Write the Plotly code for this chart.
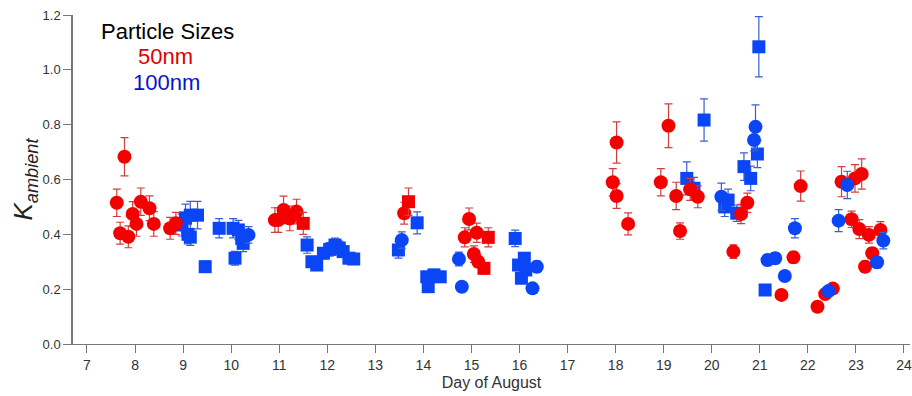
import plotly.graph_objects as go

# ---- Data ----
red_circle_x = [7.62, 7.69, 7.78, 7.86, 7.95, 8.03, 8.12, 8.30, 8.39, 8.73, 8.85,
                10.91, 10.98, 11.09, 11.22, 11.36, 13.60, 14.86, 14.95, 15.05, 15.11, 15.14,
                17.94, 18.02, 18.02, 18.26, 18.94, 19.10, 19.26, 19.34, 19.55, 19.71,
                20.45, 20.61, 20.74, 21.45, 21.70, 21.85, 22.20, 22.36, 22.52,
                22.70, 22.91, 22.98, 23.07, 23.12, 23.19, 23.27, 23.34, 23.51]
red_circle_y = [0.515, 0.404, 0.683, 0.391, 0.474, 0.438, 0.519, 0.495, 0.438, 0.422, 0.44,
                0.452, 0.452, 0.489, 0.458, 0.483, 0.477, 0.389, 0.456, 0.328, 0.406, 0.30,
                0.59, 0.735, 0.54, 0.438, 0.59, 0.796, 0.54, 0.412, 0.564, 0.537,
                0.337, 0.474, 0.515, 0.179, 0.316, 0.576, 0.136, 0.182, 0.202,
                0.592, 0.455, 0.604, 0.419, 0.62, 0.282, 0.398, 0.331, 0.416]
red_circle_err = [0.05, 0.04, 0.07, 0.04, 0.045, 0.045, 0.05, 0.045, 0.045, 0.04, 0.04,
                  0.045, 0.045, 0.05, 0.045, 0.045, 0.04, 0.035, 0.04, 0.03, 0.035, 0.02,
                  0.05, 0.075, 0.045, 0.04, 0.05, 0.08, 0.05, 0.03, 0.04, 0.04,
                  0.025, 0.035, 0.035, 0.0, 0.02, 0.055, 0.0, 0.0, 0.0,
                  0.055, 0.03, 0.05, 0.035, 0.055, 0.02, 0.03, 0.02, 0.03]

red_square_x = [11.50, 13.69, 15.26, 15.35]
red_square_y = [0.44, 0.519, 0.276, 0.389]
red_square_err = [0.04, 0.05, 0.02, 0.035]

blue_circle_x = [10.36, 13.55, 14.74, 14.80, 16.27, 16.36, 20.20, 20.88, 20.91,
                 21.16, 21.32, 21.52, 21.73, 22.43, 22.64, 22.82, 23.44, 23.57]
blue_circle_y = [0.398, 0.379, 0.31, 0.209, 0.203, 0.282, 0.537, 0.744, 0.792,
                 0.306, 0.313, 0.248, 0.422, 0.193, 0.45, 0.58, 0.298, 0.377]
blue_circle_err = [0.03, 0.03, 0.025, 0.0, 0.0, 0.02, 0.05, 0.04, 0.08,
                   0.02, 0.02, 0.0, 0.035, 0.0, 0.04, 0.05, 0.02, 0.03]

blue_square_x = [8.97, 9.05, 9.15, 9.30, 9.10, 9.15, 9.46, 9.75, 10.04, 10.15, 10.22, 10.25, 10.08,
                 11.58, 11.68, 11.78, 11.92, 12.05, 12.16, 12.25, 12.33, 12.45, 12.55,
                 13.48, 13.87, 14.07, 14.10, 14.22, 14.35,
                 15.91, 15.98, 16.10, 16.13, 16.04,
                 19.48, 19.63, 19.84, 20.27, 20.34, 20.52, 20.67, 20.81, 20.95, 20.98, 21.11]
blue_square_y = [0.434, 0.46, 0.47, 0.47, 0.40, 0.39, 0.282, 0.422, 0.422, 0.416, 0.385, 0.367, 0.313,
                 0.361, 0.30, 0.288, 0.331, 0.345, 0.361, 0.35, 0.337, 0.313, 0.31,
                 0.343, 0.442, 0.245, 0.209, 0.252, 0.245,
                 0.385, 0.288, 0.313, 0.27, 0.24,
                 0.604, 0.568, 0.817, 0.50, 0.525, 0.477, 0.647, 0.604, 0.693, 1.084, 0.197]
blue_square_err = [0.04, 0.05, 0.05, 0.05, 0.035, 0.03, 0.02, 0.035, 0.035, 0.035, 0.03, 0.03, 0.025,
                   0.03, 0.02, 0.02, 0.02, 0.025, 0.025, 0.025, 0.02, 0.02, 0.02,
                   0.03, 0.04, 0.02, 0.0, 0.02, 0.02,
                   0.03, 0.02, 0.02, 0.02, 0.02,
                   0.06, 0.04, 0.077, 0.035, 0.04, 0.03, 0.05, 0.045, 0.05, 0.11, 0.0]

x_ticks = list(range(7, 25))
y_ticks = [0.0, 0.2, 0.4, 0.6, 0.8, 1.0, 1.2]

RED = "#f50000"
BLUE = "#0a46f5"
RED_ERR = "#d23c3c"
BLUE_ERR = "#3a5fd0"

fig = go.Figure()

def add(xs, ys, errs, color, ecolor, symbol, size):
    fig.add_trace(go.Scatter(
        x=xs, y=ys, mode="markers",
        marker=dict(color=color, symbol=symbol, size=size, line=dict(width=0)),
        error_y=dict(type="data", array=errs, visible=True, color=ecolor,
                     thickness=1.2, width=4),
        showlegend=False,
    ))

add(blue_square_x, blue_square_y, blue_square_err, BLUE, BLUE_ERR, "square", 13)
add(red_circle_x, red_circle_y, red_circle_err, RED, RED_ERR, "circle", 14)
add(red_square_x, red_square_y, red_square_err, RED, RED_ERR, "square", 13)
add(blue_circle_x, blue_circle_y, blue_circle_err, BLUE, BLUE_ERR, "circle", 14)

FONT = "Arial, Liberation Sans, sans-serif"
NARROW = "Liberation Sans Narrow, Arial Narrow, Liberation Sans, sans-serif"

L, R, T, B = 73, 2, 15, 52

fig.update_layout(
    width=912, height=396,
    margin=dict(l=L, r=R, t=T, b=B, autoexpand=False),
    paper_bgcolor="white", plot_bgcolor="white",
    font=dict(family=FONT, color="#333333"),
    xaxis=dict(
        range=[6.709, 24.125], tickvals=x_ticks, ticktext=[str(t) for t in x_ticks],
        showgrid=False, zeroline=False, showline=True, linecolor="#777777", linewidth=1.2,
        ticks="outside", ticklen=8, tickcolor="#777777", tickwidth=1.2,
        tickfont=dict(size=14, color="#333333", family=NARROW),
        ticklabeloverflow="allow",
        title=dict(text="Day of August", font=dict(size=16, color="#333333", family=NARROW),
                   standoff=4),
        automargin=False,
    ),
    yaxis=dict(
        range=[0, 1.2], tickvals=y_ticks, ticktext=[f"{v:.1f}" for v in y_ticks],
        showgrid=False, zeroline=False, showline=True, linecolor="#777777", linewidth=1.5,
        ticks="outside", ticklen=8, tickcolor="#777777", tickwidth=1.2,
        tickfont=dict(size=13, color="#333333"),
        title=dict(text="<i>K</i><sub><i>ambient</i></sub>", font=dict(size=26, color="#222222"),
                   standoff=2),
        automargin=False,
    ),
)

pw = 912 - L - R
ph = 396 - T - B
def ann(px, py, text, color):
    fig.add_annotation(xref="paper", yref="paper", x=(px - L) / pw, y=1 - (py - T) / ph,
                       xanchor="center", yanchor="middle", text=text, showarrow=False,
                       font=dict(size=22, color=color, family=FONT))

ann(167, 31, "Particle Sizes", "black")
ann(165, 56, "50nm", "#e00000")
ann(166, 82, "100nm", "#0a14c8")

fig.write_html("out.html", config={"displayModeBar": False},
               post_script="document.body.style.margin='0px';")
